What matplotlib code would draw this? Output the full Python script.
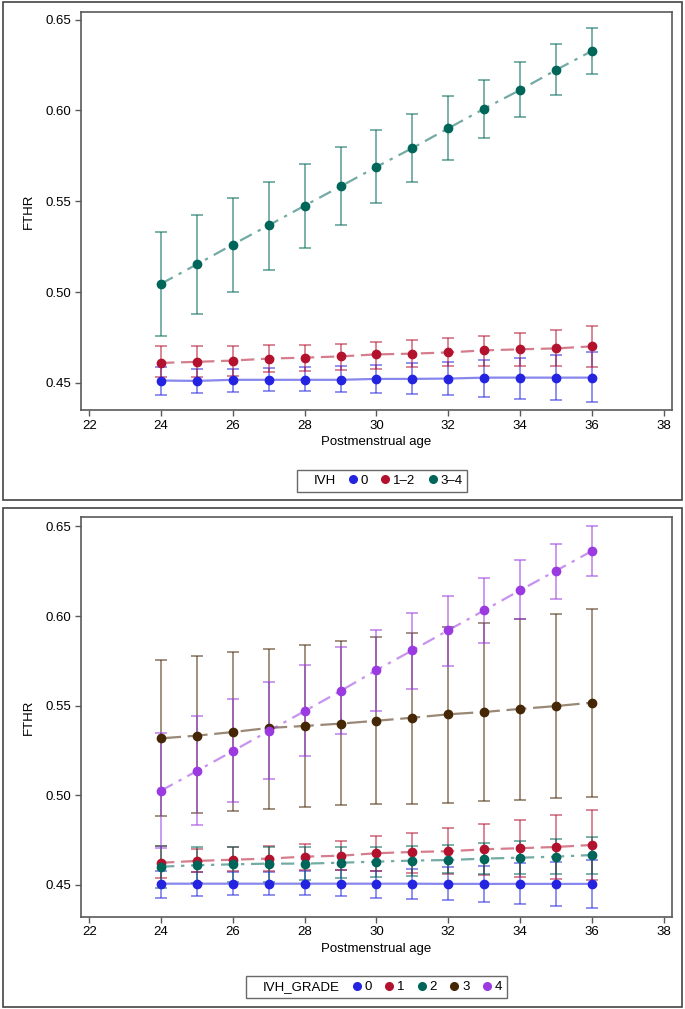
import matplotlib
matplotlib.use("Agg")
import matplotlib.pyplot as plt
from matplotlib.lines import Line2D
from matplotlib.patches import Rectangle

plt.rcParams.update({
    "font.family": ["Liberation Sans", "DejaVu Sans"],
    "font.size": 9.5,
})

age = [24, 25, 26, 27, 28, 29, 30, 31, 32, 33, 34, 35, 36]

# top panel: IVH
ivh0_mean = [0.4513, 0.4511, 0.4517, 0.4517, 0.4517, 0.4517, 0.4522, 0.4522, 0.4524, 0.4529, 0.4529, 0.4529, 0.4529]
ivh0_upper = [0.4586, 0.4579, 0.4579, 0.4580, 0.4586, 0.4595, 0.4599, 0.4610, 0.4616, 0.4628, 0.4639, 0.4656, 0.4668]
ivh0_lower = [0.4436, 0.4445, 0.4448, 0.4454, 0.4454, 0.4448, 0.4443, 0.4437, 0.4432, 0.4425, 0.4414, 0.4408, 0.4397]

ivh12_mean = [0.4610, 0.4616, 0.4623, 0.4634, 0.4639, 0.4646, 0.4657, 0.4661, 0.4668, 0.4679, 0.4685, 0.4690, 0.4701]
ivh12_upper = [0.4701, 0.4701, 0.4701, 0.4709, 0.4709, 0.4715, 0.4723, 0.4738, 0.4748, 0.4760, 0.4777, 0.4793, 0.4812]
ivh12_lower = [0.4530, 0.4533, 0.4540, 0.4558, 0.4564, 0.4569, 0.4577, 0.4586, 0.4594, 0.4594, 0.4594, 0.4594, 0.4586]

ivh34_mean = [0.5046, 0.5153, 0.5262, 0.5368, 0.5476, 0.5582, 0.5690, 0.5793, 0.5902, 0.6010, 0.6113, 0.6223, 0.6328]
ivh34_upper = [0.5331, 0.5422, 0.5520, 0.5608, 0.5708, 0.5800, 0.5892, 0.5981, 0.6080, 0.6170, 0.6266, 0.6365, 0.6453]
ivh34_lower = [0.4760, 0.4880, 0.5002, 0.5124, 0.5245, 0.5368, 0.5488, 0.5608, 0.5725, 0.5848, 0.5963, 0.6084, 0.6201]

# bottom panel: IVH_GRADE
g0_mean = [0.4507, 0.4507, 0.4507, 0.4507, 0.4507, 0.4507, 0.4507, 0.4507, 0.4506, 0.4506, 0.4506, 0.4506, 0.4506]
g0_upper = [0.4578, 0.4571, 0.4571, 0.4574, 0.4578, 0.4584, 0.4580, 0.4589, 0.4599, 0.4608, 0.4621, 0.4630, 0.4641]
g0_lower = [0.4429, 0.4437, 0.4443, 0.4443, 0.4443, 0.4437, 0.4429, 0.4422, 0.4415, 0.4404, 0.4394, 0.4383, 0.4372]

g1_mean = [0.4624, 0.4634, 0.4641, 0.4647, 0.4658, 0.4663, 0.4677, 0.4684, 0.4688, 0.4699, 0.4705, 0.4712, 0.4723]
g1_upper = [0.4715, 0.4701, 0.4710, 0.4717, 0.4727, 0.4745, 0.4772, 0.4792, 0.4816, 0.4840, 0.4863, 0.4892, 0.4918]
g1_lower = [0.4540, 0.4571, 0.4580, 0.4580, 0.4584, 0.4584, 0.4580, 0.4569, 0.4561, 0.4556, 0.4546, 0.4535, 0.4528]

g2_mean = [0.4602, 0.4610, 0.4615, 0.4619, 0.4619, 0.4624, 0.4630, 0.4636, 0.4639, 0.4647, 0.4652, 0.4658, 0.4667]
g2_upper = [0.4719, 0.4710, 0.4710, 0.4714, 0.4714, 0.4714, 0.4714, 0.4719, 0.4723, 0.4733, 0.4745, 0.4757, 0.4769]
g2_lower = [0.4482, 0.4509, 0.4518, 0.4518, 0.4528, 0.4537, 0.4546, 0.4552, 0.4565, 0.4560, 0.4560, 0.4560, 0.4560]

g3_mean = [0.5318, 0.5333, 0.5353, 0.5376, 0.5387, 0.5400, 0.5416, 0.5433, 0.5452, 0.5465, 0.5482, 0.5498, 0.5517]
g3_upper = [0.5755, 0.5777, 0.5798, 0.5815, 0.5838, 0.5859, 0.5885, 0.5907, 0.5937, 0.5960, 0.5985, 0.6013, 0.6041]
g3_lower = [0.4886, 0.4900, 0.4911, 0.4922, 0.4933, 0.4945, 0.4950, 0.4952, 0.4956, 0.4967, 0.4974, 0.4985, 0.4992]

g4_mean = [0.5026, 0.5136, 0.5247, 0.5359, 0.5470, 0.5582, 0.5699, 0.5809, 0.5921, 0.6032, 0.6144, 0.6253, 0.6363]
g4_upper = [0.5346, 0.5441, 0.5535, 0.5634, 0.5729, 0.5829, 0.5921, 0.6019, 0.6112, 0.6212, 0.6311, 0.6404, 0.6504]
g4_lower = [0.4705, 0.4835, 0.4961, 0.5090, 0.5218, 0.5340, 0.5470, 0.5593, 0.5721, 0.5848, 0.5984, 0.6095, 0.6223]

BLUE = "#2424e0"
RED = "#b3122e"
TEAL = "#00665a"
BROWN = "#462705"
PURPLE = "#9a3ae0"

SOLID = "-"
DASH = (0, (6, 3))
DASHDOT = (0, (6, 3, 1.5, 3))
LONGDASH = (0, (9, 3))


def draw_group(ax, mean, lower, upper, color, ls):
    yerr = [[m - l for m, l in zip(mean, lower)], [u - m for m, u in zip(mean, upper)]]
    ax.errorbar(age, mean, yerr=yerr, fmt="none", ecolor=color, alpha=0.55,
                elinewidth=1.3, capsize=4.3, capthick=1.3, zorder=2)
    ax.plot(age, mean, color=color, alpha=0.55, linestyle=ls, linewidth=1.6, zorder=3)
    ax.plot(age, mean, linestyle="none", marker="o", markersize=6,
            color=color, markeredgecolor=color, zorder=4)


def style_axes(ax, ylim):
    ax.set_xlim(21.77, 38.23)
    ax.set_ylim(*ylim)
    ax.set_xticks([22, 24, 26, 28, 30, 32, 34, 36, 38])
    ax.set_yticks([0.45, 0.50, 0.55, 0.60, 0.65])
    ax.set_yticklabels(["0.45", "0.50", "0.55", "0.60", "0.65"])
    for sp in ax.spines.values():
        sp.set_color("#5a5a5a")
        sp.set_linewidth(1.2)
    ax.tick_params(direction="out", length=4, width=1, color="#5a5a5a", pad=3)
    ax.set_xlabel("Postmenstrual age", labelpad=3)
    ax.set_ylabel("FTHR", labelpad=8)


def legend_row(fig, title, labels, colors, center):
    handles = [Line2D([], [], linestyle="none")]
    for c in colors:
        handles.append(Line2D([], [], linestyle="none", marker="o", markersize=5.5, color=c))
    leg = fig.legend(handles, [title] + labels, loc="center", bbox_to_anchor=center,
                     ncol=len(handles), frameon=True, fancybox=False, handlelength=0.6,
                     handletextpad=0.3, columnspacing=1.0, borderpad=0.35, fontsize=9.5)
    leg.get_frame().set_edgecolor("#444444")
    leg.get_frame().set_linewidth(1.0)
    return leg


fig = plt.figure(figsize=(6.85, 10.09), dpi=100)

for y0, h in [(0.504, 0.494), (0.002, 0.495)]:
    fig.patches.append(Rectangle((0.004, y0), 0.992, h, transform=fig.transFigure,
                                 fill=False, edgecolor="#444444", linewidth=1.2))

ax1 = fig.add_axes([0.1182, 0.5937, 0.8628, 0.3947])
draw_group(ax1, ivh0_mean, ivh0_lower, ivh0_upper, BLUE, SOLID)
draw_group(ax1, ivh12_mean, ivh12_lower, ivh12_upper, RED, DASH)
draw_group(ax1, ivh34_mean, ivh34_lower, ivh34_upper, TEAL, DASHDOT)
style_axes(ax1, (0.4351, 0.6544))

ax2 = fig.add_axes([0.1182, 0.0915, 0.8628, 0.3958])
draw_group(ax2, g0_mean, g0_lower, g0_upper, BLUE, SOLID)
draw_group(ax2, g1_mean, g1_lower, g1_upper, RED, DASH)
draw_group(ax2, g2_mean, g2_lower, g2_upper, TEAL, DASHDOT)
draw_group(ax2, g3_mean, g3_lower, g3_upper, BROWN, LONGDASH)
draw_group(ax2, g4_mean, g4_lower, g4_upper, PURPLE, DASHDOT)
style_axes(ax2, (0.4323, 0.6551))

legend_row(fig, "IVH", ["0", "1\u20132", "3\u20134"], [BLUE, RED, TEAL], (0.558, 0.5233))
legend_row(fig, "IVH_GRADE", ["0", "1", "2", "3", "4"], [BLUE, RED, TEAL, BROWN, PURPLE], (0.5496, 0.0218))

fig.savefig("out.png", dpi=100)
